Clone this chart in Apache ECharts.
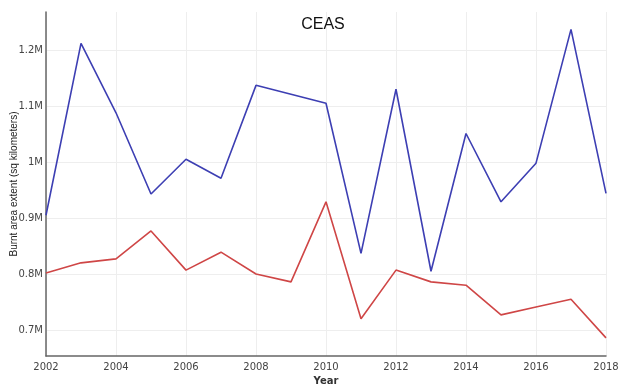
<!DOCTYPE html>
<html>
<head>
<meta charset="utf-8">
<script src="https://cdn.jsdelivr.net/npm/echarts@6/dist/echarts.min.js"></script>
<style>
  html, body { margin: 0; padding: 0; background: #fff; }
  #chart { width: 620px; height: 384px; }
</style>
</head>
<body>
<div id="chart"></div>
<script>
// Annual burnt area extent, CEAS, 2002-2018
const years = [2002, 2003, 2004, 2005, 2006, 2007, 2008, 2009, 2010,
               2011, 2012, 2013, 2014, 2015, 2016, 2017, 2018];
const blueSeries = [905000, 1212000, 1088000, 943000, 1005000, 971000, 1137000, 1121000, 1105000,
                    837000, 1130000, 805000, 1051000, 929000, 998000, 1237000, 944000];
const redSeries = [802000, 820000, 827000, 877000, 807000, 839000, 800000, 786000, 929000,
                   720000, 807000, 786000, 780000, 727000, 741000, 755000, 686000];
const yTicks = [700000, 800000, 900000, 1000000, 1100000, 1200000];
const xTicks = [2002, 2004, 2006, 2008, 2010, 2012, 2014, 2016, 2018];

const pairs = (xs, ys) => xs.map((x, i) => [x, ys[i]]);

const chart = echarts.init(document.getElementById('chart'), null, { renderer: 'canvas' });
chart.setOption({
  animation: false,
  backgroundColor: '#ffffff',
  title: {
    text: 'CEAS',
    left: 318, top: 12, textAlign: 'center',
    textStyle: { fontFamily: 'Liberation Sans', fontSize: 16, fontWeight: 'normal', color: '#111' }
  },
  grid: { left: 46, right: 14, top: 12, bottom: 28, containLabel: false, outerBoundsMode: 'none' },
  xAxis: {
    type: 'value', min: 2002, max: 2018, interval: 2,
    name: 'Year', nameLocation: 'middle', nameGap: 20, nameMoveOverlap: false,
    nameTextStyle: { fontFamily: 'DejaVu Sans', fontSize: 10, fontWeight: 'bold', color: '#333',
                     verticalAlign: 'top' },
    axisLine: { show: true, lineStyle: { color: '#666', width: 1.5 } },
    axisTick: { show: false },
    axisLabel: {
      fontFamily: 'DejaVu Sans', fontSize: 10, color: '#444', margin: 6,
      customValues: xTicks, formatter: v => String(v)
    },
    splitLine: { show: true, lineStyle: { color: '#eeeeee', width: 1 } }
  },
  yAxis: {
    type: 'value', min: 653600, max: 1268000,
    name: 'Burnt area extent (sq kilometers)', nameLocation: 'middle', nameGap: 27, nameMoveOverlap: false,
    nameTextStyle: { fontFamily: 'Liberation Sans', fontSize: 10, color: '#222' },
    axisLine: { show: true, lineStyle: { color: '#666', width: 1.5 } },
    axisTick: { show: false, customValues: yTicks },
    axisLabel: {
      fontFamily: 'DejaVu Sans', fontSize: 10, color: '#444', margin: 3,
      customValues: yTicks,
      formatter: v => (Math.round(v / 100000) / 10) + 'M'
    },
    splitLine: { show: true, lineStyle: { color: '#eeeeee', width: 1 } }
  },
  series: [
    {
      type: 'line', data: pairs(years, blueSeries), showSymbol: false,
      lineStyle: { color: '#3d3fb3', width: 1.6 }, itemStyle: { color: '#3d3fb3' }
    },
    {
      type: 'line', data: pairs(years, redSeries), showSymbol: false,
      lineStyle: { color: '#cf4646', width: 1.6 }, itemStyle: { color: '#cf4646' }
    }
  ]
});
</script>
</body>
</html>
